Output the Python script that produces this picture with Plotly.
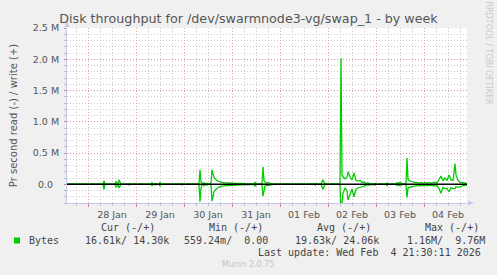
import pandas as pd
import plotly.graph_objects as go

# ---------------- data ----------------
start_time = "2026-01-27 13:30"
end_time = "2026-02-04 21:30"

# hours after start_time
hours = [0, 18, 18.5, 19, 19.5, 24, 24.5, 25, 25.5, 26, 26.5, 27, 30.5, 31, 31.5,
         32.5, 33, 33.5, 35, 35.5, 36, 42, 42.5, 43, 43.5, 44, 44.5, 46, 46.5, 47,
         57, 57.5, 58, 65.5, 66, 66.5, 67, 67.5, 68, 68.5, 69, 69.5, 70, 70.5, 71.5,
         72, 72.5, 73, 73.5, 74, 74.5, 75, 75.5, 76, 76.5, 77.5, 78.5, 79.5, 80.5,
         81.5, 83, 84.5, 86.5, 88.5, 90.5, 92.5, 93, 93.5, 94, 94.5, 95, 97, 97.5,
         98, 98.5, 99, 99.5, 100.5, 101.5, 102.5, 103, 106, 106.5, 107, 110, 110.5,
         111, 113.5, 114, 114.5, 123.5, 124, 124.5, 127, 127.5, 128, 128.5, 129,
         136, 136.5, 137, 137.5, 138, 139, 140, 140.5, 141.5, 142.5, 143.5, 144.5,
         145.5, 146.5, 147.5, 148.5, 149.5, 150.5, 151.5, 152.5, 153.5, 154, 154.5,
         159.5, 160, 160.5, 164.5, 165, 165.5, 166.5, 167.5, 168, 169, 169.5, 170,
         170.5, 171, 172, 173, 174, 175, 176, 177, 178, 179, 180, 181, 182, 183, 184,
         185, 186, 187, 188, 189, 190, 191, 192, 193, 194, 194.5, 195.5, 196.5,
         197.5, 198.5, 199.5, 200]

# write bytes/s (kB)
write_k = [0, 0, 58, 10, 0, 0, 40, 20, 10, 70, 30, 0, 0, 12, 0,
           0, 10, 0, 0, 12, 0, 0, 25, 0, 0, 15, 0, 0, 30, 0,
           0, 12, 0, 0, 20, 230, 40, 10, 0, 25, 10, 0, 15, 0, 0,
           20, 230, 150, 110, 90, 70, 60, 50, 42, 38, 30, 25, 22, 18,
           15, 15, 12, 12, 10, 10, 10, 0, 0, 30, 15, 0, 0, 15,
           280, 60, 30, 20, 25, 15, 10, 0, 0, 10, 0, 0, 10,
           0, 0, 10, 0, 0, 15, 0, 0, 30, 70, 35, 0,
           0, 20, 2016, 150, 120, 85, 110, 200, 120, 70, 180, 60,
           50, 60, 30, 35, 15, 20, 10, 0, 0, 15, 0,
           0, 20, 0, 0, 25, 10, 30, 15, 0, 0, 20, 420,
           80, 60, 50, 40, 25, 30, 20, 30, 15, 25, 20, 30, 15, 25, 30,
           20, 80, 130, 60, 100, 60, 150, 70, 60, 330, 150, 60, 30,
           25, 20, 15, 14.30]

# read bytes/s (kB), drawn below zero
read_k = [0, 0, 80, 10, 0, 0, 50, 20, 10, 60, 30, 0, 0, 12, 0,
          0, 10, 0, 0, 12, 0, 0, 20, 0, 0, 15, 0, 0, 25, 0,
          0, 10, 0, 0, 20, 280, 60, 10, 0, 25, 10, 0, 15, 0, 0,
          20, 270, 160, 120, 95, 75, 60, 52, 45, 38, 30, 25, 22, 18,
          15, 12, 12, 10, 10, 8, 8, 0, 0, 30, 15, 0, 0, 15,
          190, 70, 30, 20, 20, 15, 10, 0, 0, 8, 0, 0, 8,
          0, 0, 8, 0, 0, 15, 0, 0, 35, 80, 40, 0,
          0, 20, 450, 320, 145, 65, 100, 250, 150, 75, 200, 80,
          60, 45, 40, 30, 15, 15, 10, 0, 0, 15, 0,
          0, 20, 0, 0, 20, 10, 25, 10, 0, 0, 20, 210,
          60, 50, 40, 35, 25, 25, 20, 25, 20, 20, 25, 20, 15, 20, 30,
          20, 70, 145, 50, 65, 70, 120, 55, 70, 65, 40, 50, 40,
          25, 20, 15, 16.61]

y_tick_vals = [0, 0.5e6, 1.0e6, 1.5e6, 2.0e6, 2.5e6]
y_tick_text = ["0.0\u00a0\u00a0", "0.5 M", "1.0 M", "1.5 M", "2.0 M", "2.5 M"]

title = "Disk throughput for /dev/swarmnode3-vg/swap_1 - by week"
y_title = "Pr second read (-) / write (+)"
series_name = "Bytes"
legend_header = ["Cur (-/+)", "Min (-/+)", "Avg (-/+)", "Max (-/+)"]
legend_values = ["16.61k/ 14.30k", "559.24m/  0.00", "19.63k/ 24.06k", "1.16M/  9.76M"]
last_update = "Last update: Wed Feb  4 21:30:11 2026"
munin_version = "Munin 2.0.75"
rrd_credit = "RRDTOOL / TOBI OETIKER"

# ---------------- build ----------------
t0 = pd.Timestamp(start_time)
times = [t0 + pd.Timedelta(hours=h) for h in hours]
write_v = [v * 1000 for v in write_k]
read_v = [-v * 1000 for v in read_k]

W, H = 497, 275
L, R, T, B = 67, 30, 28, 72
PW, PH = W - L - R, H - T - B

def px(x):  # pixel x -> paper
    return (x - L) / PW

def py(y):  # pixel y -> paper
    return (H - B - y) / PH

GREEN = "#00CC00"
TXT = "#555555"
LEG = "#444444"
MONO = "DejaVu Sans Mono"
SANS = "DejaVu Sans"
RED_GRID = "rgba(225,120,120,0.65)"
GRAY_GRID = "rgba(170,170,170,0.6)"
AXIS = "#c6c6ee"
DOT = "1px,2px"

fig = go.Figure()
fig.add_trace(go.Scatter(x=times, y=read_v, mode="lines",
                         line=dict(color=GREEN, width=1.3), showlegend=False,
                         hoverinfo="skip"))
fig.add_trace(go.Scatter(x=times, y=write_v, mode="lines",
                         line=dict(color=GREEN, width=1.3), showlegend=False,
                         hoverinfo="skip"))
fig.add_hline(y=0, line_color="black", line_width=1.5)

fig.update_layout(
    width=W, height=H,
    margin=dict(l=L, r=R, t=T, b=B, pad=0),
    paper_bgcolor="#F0F0F0",
    plot_bgcolor="#FFFFFF",
    font=dict(family=SANS, size=9, color=TXT),
    title=dict(text=title, x=0.5, xref="container", xanchor="center",
               y=1 - 18.5 / H, yref="container", yanchor="middle",
               font=dict(family=SANS, size=12.7, color=TXT)),
    showlegend=False,
)

fig.update_xaxes(
    range=[t0, pd.Timestamp(end_time)],
    type="date",
    dtick=86400000, tick0="2026-01-28 00:00",
    tickformat="%d %b", ticklabelmode="period",
    showgrid=True, gridcolor=RED_GRID, griddash=DOT, gridwidth=1,
    minor=dict(dtick=21600000, tick0="2026-01-28 00:00", showgrid=True,
               gridcolor=GRAY_GRID, griddash=DOT, gridwidth=1,
               ticks="outside", ticklen=2, tickcolor="#bbbbbb"),
    ticks="outside", ticklen=3, tickcolor="#e08080",
    showline=True, linecolor=AXIS, linewidth=1,
    zeroline=False,
    tickfont=dict(family=SANS, size=9.5, color=TXT),
)

fig.update_yaxes(
    range=[-0.3e6, 2.5e6],
    tickvals=y_tick_vals, ticktext=y_tick_text,
    showgrid=True, gridcolor=RED_GRID, griddash=DOT, gridwidth=1,
    minor=dict(dtick=1e5, tick0=0, showgrid=True, gridcolor=GRAY_GRID,
               griddash=DOT, gridwidth=1, ticks="outside", ticklen=2,
               tickcolor="#bbbbbb"),
    ticks="outside", ticklen=2, tickcolor="#e08080",
    showline=True, linecolor=AXIS, linewidth=1,
    zeroline=False,
    ticklabelstandoff=3,
    tickfont=dict(family=SANS, size=9.5, color=TXT),
    title=dict(text=y_title, font=dict(family=SANS, size=10, color=TXT), standoff=13),
)

# axis arrows
fig.add_shape(type="path", xref="paper", yref="paper",
              path=f"M {px(64.5)} {py(27)} L {px(69.5)} {py(27)} L {px(67)} {py(21)} Z",
              fillcolor=AXIS, line=dict(width=0))
fig.add_shape(type="path", xref="paper", yref="paper",
              path=f"M {px(468)} {py(200.5)} L {px(468)} {py(205.5)} L {px(474)} {py(203)} Z",
              fillcolor=AXIS, line=dict(width=0))

# legend square
fig.add_shape(type="rect", xref="paper", yref="paper",
              x0=px(14), x1=px(20), y0=py(243.5), y1=py(237.5),
              fillcolor=GREEN, line=dict(width=0))

def txt(s, x, y, anchor="left", font=MONO, size=10, color=LEG, angle=0):
    fig.add_annotation(text=s, x=px(x), y=py(y), xref="paper", yref="paper",
                       xanchor=anchor, yanchor="middle", showarrow=False,
                       textangle=angle,
                       font=dict(family=font, size=size, color=color))

hdr_x = [98.7, 206.7, 314.7, 422.7]
val_x = [83, 182.3, 293.3, 405]
for s, x in zip(legend_header, hdr_x):
    txt(s, x, 227.5)
txt(series_name, 26.7, 240)
for s, x in zip(legend_values, val_x):
    txt(s, x, 240)
txt(last_update, 483, 252, anchor="right")
txt(munin_version, 248, 264, anchor="center", font=SANS, size=8, color="#c4c4c4")
txt(rrd_credit, 488.5, 53, anchor="center", font=SANS, size=8, color="#c8c8c8", angle=90)

fig.write_html("out.html")
